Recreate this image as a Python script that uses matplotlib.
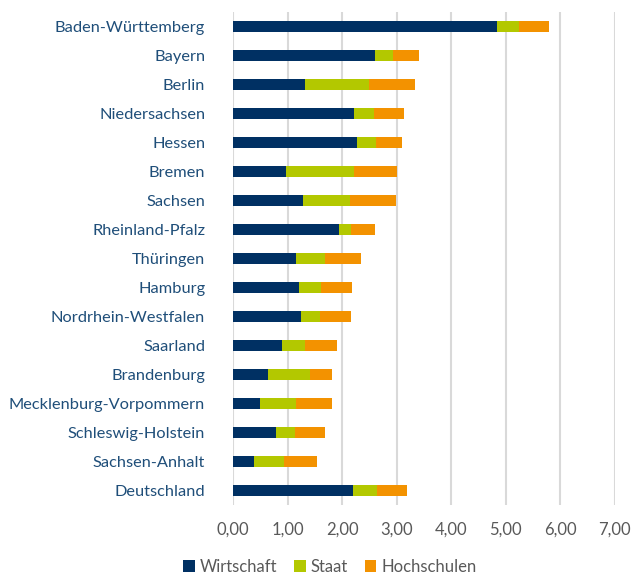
import matplotlib.pyplot as plt
import numpy as np

plt.rcParams['font.family'] = ['Lato', 'DejaVu Sans']

# Bundeslaender (top to bottom as shown)
laender = ['Baden-Württemberg', 'Bayern', 'Berlin', 'Niedersachsen', 'Hessen',
           'Bremen', 'Sachsen', 'Rheinland-Pfalz', 'Thüringen', 'Hamburg',
           'Nordrhein-Westfalen', 'Saarland', 'Brandenburg',
           'Mecklenburg-Vorpommern', 'Schleswig-Holstein', 'Sachsen-Anhalt',
           'Deutschland']
wirtschaft = [4.83, 2.61, 1.32, 2.22, 2.28, 0.98, 1.29, 1.95, 1.15, 1.21,
              1.25, 0.89, 0.64, 0.50, 0.78, 0.39, 2.19]
staat = [0.42, 0.33, 1.18, 0.36, 0.34, 1.23, 0.85, 0.22, 0.53, 0.40,
         0.34, 0.43, 0.78, 0.66, 0.36, 0.55, 0.44]
hochschulen = [0.54, 0.47, 0.83, 0.55, 0.48, 0.80, 0.85, 0.44, 0.66, 0.57,
               0.57, 0.58, 0.39, 0.65, 0.54, 0.60, 0.56]

c_w = '#003063'
c_s = '#B3C800'
c_h = '#F39200'

fig = plt.figure(figsize=(6.32, 5.85), dpi=100)
ax = fig.add_axes([0.3687, 0.137, 0.6043, 0.8425])

y = np.arange(len(laender))
w = np.array(wirtschaft)
s = np.array(staat)
h = np.array(hochschulen)
ax.barh(y, w, height=0.39, color=c_w, label='Wirtschaft', zorder=3)
ax.barh(y, s, left=w, height=0.39, color=c_s, label='Staat', zorder=3)
ax.barh(y, h, left=w + s, height=0.39, color=c_h, label='Hochschulen', zorder=3)

ax.set_xlim(0, 7)
ax.set_ylim(len(laender) - 0.5, -0.5)
ax.set_xticks(np.arange(0, 8))
ax.set_xticklabels([f'{v},00' for v in range(8)])
ax.set_yticks(y)
ax.set_yticklabels(laender)
ax.xaxis.grid(True, color='#D9D9D9', linewidth=1.5, zorder=0)
for sp in ax.spines.values():
    sp.set_visible(False)
ax.tick_params(axis='x', length=0, pad=12, labelsize=12, labelcolor='#595959')
ax.tick_params(axis='y', length=0, pad=20, labelsize=11.8, labelcolor='#1F4E79')

fig.legend(loc='lower center', bbox_to_anchor=(0.522, -0.008), ncol=3, frameon=False,
           fontsize=12, handlelength=0.7, handleheight=0.7, columnspacing=1.0,
           handletextpad=0.3, labelcolor='#595959')

fig.savefig('out.png', dpi=100)
